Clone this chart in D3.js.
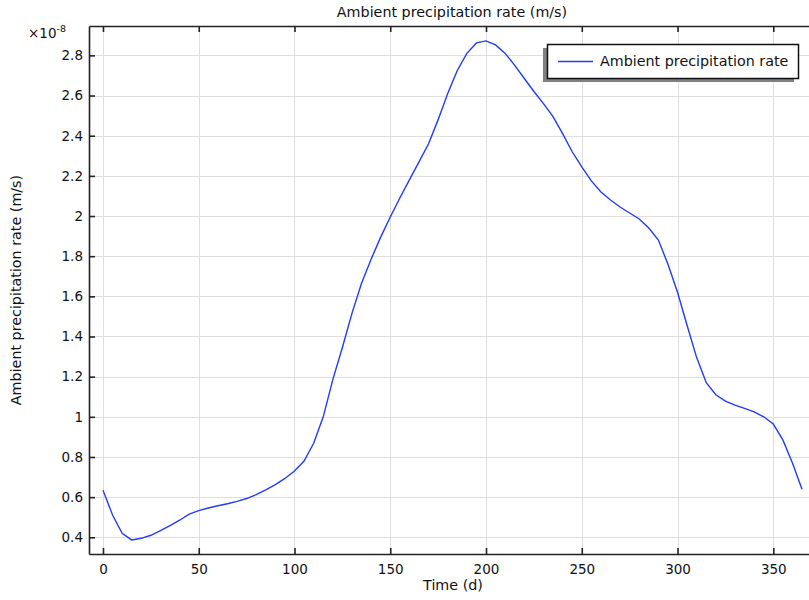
<!DOCTYPE html>
<html><head><meta charset="utf-8">
<script src="https://cdn.jsdelivr.net/npm/d3@7"></script>
<style>
html,body{margin:0;padding:0;background:#fff;}
svg{display:block;font-family:"DejaVu Sans",sans-serif;}
</style></head>
<body>
<svg id="chart" width="809" height="600"></svg>
<script>
const days = [0,5,10,15,20,25,30,35,40,45,50,55,60,65,70,75,80,85,90,95,100,105,110,115,120,125,130,135,140,145,150,155,160,165,170,175,180,185,190,195,200,205,210,215,220,225,230,235,240,245,250,255,260,265,270,275,280,285,290,295,300,305,310,315,320,325,330,335,340,345,350,355,360,365];
const rate = [0.634,0.511,0.42,0.387,0.395,0.41,0.433,0.458,0.485,0.515,0.533,0.546,0.557,0.567,0.579,0.593,0.612,0.636,0.662,0.693,0.73,0.78,0.868,1.0,1.185,1.345,1.515,1.665,1.785,1.895,1.995,2.09,2.18,2.27,2.36,2.48,2.61,2.725,2.81,2.862,2.872,2.852,2.81,2.75,2.685,2.62,2.56,2.495,2.41,2.32,2.245,2.175,2.12,2.08,2.045,2.015,1.985,1.94,1.88,1.76,1.62,1.455,1.295,1.17,1.11,1.078,1.058,1.042,1.025,1.0,0.964,0.885,0.77,0.639];
const xTicks = [0,50,100,150,200,250,300,350];
const yTicks = [0.4,0.6,0.8,1.0,1.2,1.4,1.6,1.8,2.0,2.2,2.4,2.6,2.8];
const titleText = "Ambient precipitation rate (m/s)";
const xLabel = "Time (d)";
const yLabel = "Ambient precipitation rate (m/s)";
const seriesName = "Ambient precipitation rate";

const L = 89, R = 816, T = 26, B = 554;
const svg = d3.select("#chart");
const x = d3.scaleLinear().domain([-7.3, 372.3]).range([L, R]);
const y = d3.scaleLinear().domain([0.3168, 2.9463]).range([B, T]);

const defs = svg.append("defs");
defs.append("clipPath").attr("id","clip").append("rect")
  .attr("x",L).attr("y",T).attr("width",R-L).attr("height",B-T);

// grid
const grid = svg.append("g").attr("stroke","#dedede").attr("stroke-width",1);
grid.selectAll("line.vx").data(xTicks).join("line")
  .attr("x1",d=>Math.round(x(d))+0.5).attr("x2",d=>Math.round(x(d))+0.5)
  .attr("y1",T).attr("y2",B);
grid.selectAll("line.hy").data(yTicks).join("line")
  .attr("y1",d=>Math.round(y(d))+0.5).attr("y2",d=>Math.round(y(d))+0.5)
  .attr("x1",L).attr("x2",R);

// line
const line = d3.line().x((d,i)=>x(days[i])).y(d=>y(d));
svg.append("path").datum(rate).attr("d",line)
  .attr("fill","none").attr("stroke","#1f3cff").attr("stroke-width",1.4)
  .attr("clip-path","url(#clip)");

// axes
const fmt = d => (+d.toFixed(1)).toString();
const bottomAxis = d3.axisBottom(x).tickValues(xTicks).tickSizeInner(-6).tickSizeOuter(0).tickPadding(10);
const gb = svg.append("g").attr("transform",`translate(0,${B})`).call(bottomAxis);
const leftAxis = d3.axisLeft(y).tickValues(yTicks).tickFormat(fmt).tickSizeInner(-6).tickSizeOuter(0).tickPadding(6);
const gl = svg.append("g").attr("transform",`translate(${L},0)`).call(leftAxis);
const topAxis = d3.axisTop(x).tickValues(xTicks).tickSizeInner(-6).tickSizeOuter(0).tickFormat("");
const gt = svg.append("g").attr("transform",`translate(0,${T})`).call(topAxis);
[gb,gl,gt].forEach(g=>{
  g.select(".domain").attr("stroke","#222").attr("stroke-width",1.6);
  g.selectAll(".tick line").attr("stroke","#222").attr("stroke-width",1.6);
  g.selectAll(".tick text").attr("fill","#111").attr("font-size",13.5).attr("font-family","DejaVu Sans");
});
// right border (off-canvas)
svg.append("line").attr("x1",R).attr("x2",R).attr("y1",T).attr("y2",B).attr("stroke","#222").attr("stroke-width",1.6);

// multiplier
const mult = svg.append("text").attr("x",28).attr("y",38).attr("font-size",13.5).attr("fill","#111");
mult.append("tspan").text("×10");
mult.append("tspan").attr("dy",-6).attr("font-size",9.5).text("-8");

// title
svg.append("text").attr("x",452).attr("y",17).attr("text-anchor","middle")
  .attr("font-size",14.3).attr("fill","#111").text(titleText);
// x label
svg.append("text").attr("x",453).attr("y",590).attr("text-anchor","middle")
  .attr("font-size",14.3).attr("fill","#111").text(xLabel);
// y label
svg.append("text").attr("transform",`translate(21,${(T+B)/2}) rotate(-90)`).attr("text-anchor","middle")
  .attr("font-size",14.3).attr("fill","#111").text(yLabel);

// legend
const lg = svg.append("g");
lg.append("rect").attr("x",543).attr("y",48).attr("width",251).attr("height",34).attr("fill","#808080");
lg.append("rect").attr("x",547.5).attr("y",44.5).attr("width",251).attr("height",34)
  .attr("fill","#fff").attr("stroke","#111").attr("stroke-width",1.5);
lg.append("line").attr("x1",558).attr("x2",593).attr("y1",61.5).attr("y2",61.5)
  .attr("stroke","#1f3cff").attr("stroke-width",1.4);
lg.append("text").attr("x",600).attr("y",66).attr("font-size",14.3).attr("fill","#111").text(seriesName);
</script>
</body></html>
